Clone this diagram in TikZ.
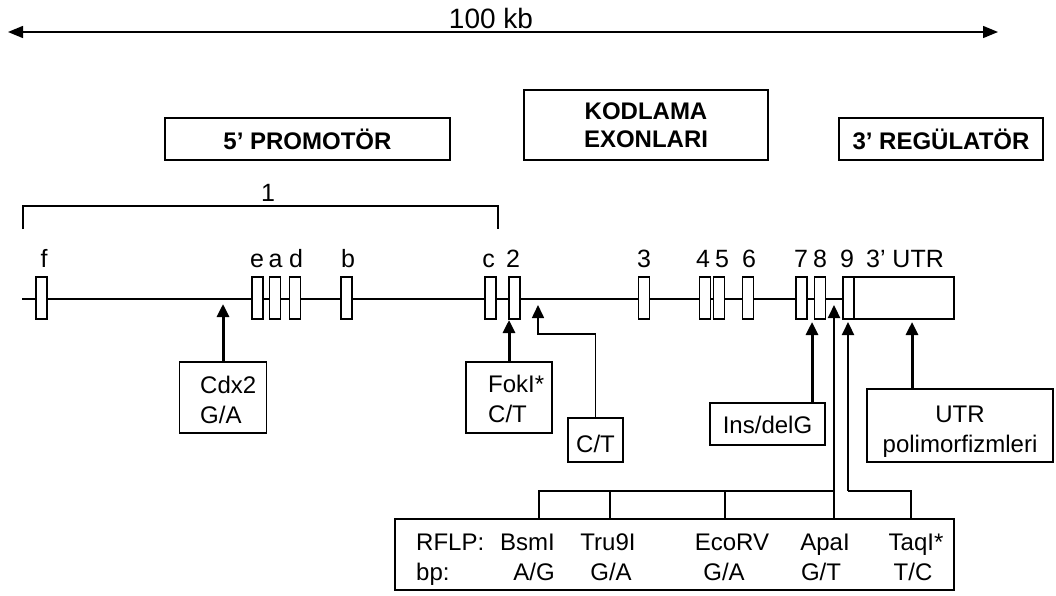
\documentclass[tikz,border=0pt]{standalone}
\usepackage{fontspec}
\setmainfont{Liberation Sans}
\usetikzlibrary{arrows.meta}
\newcommand{\fsbody}{\fontsize{24}{28}\selectfont}
\newcommand{\fslbl}{\fontsize{25}{28}\selectfont}
\newcommand{\fskb}{\fontsize{28}{32}\selectfont}
\newcommand{\fshead}{\fontsize{24}{28}\selectfont\bfseries}
\begin{document}
\begin{tikzpicture}[x=1pt,y=-1pt,
  gl/.style={line width=1.4pt},
  exon/.style={draw, fill=white, line width=1.3pt, minimum width=11pt, minimum height=42pt, inner sep=0pt},
  lbl/.style={anchor=base, font=\fslbl, inner sep=0pt},
  box/.style={draw, line width=1.4pt, inner sep=0pt},
  txt/.style={anchor=base west, font=\fsbody, inner sep=0pt},
  txtc/.style={anchor=base, font=\fsbody, inner sep=0pt},
  txte/.style={anchor=base east, font=\fsbody, inner sep=0pt},
  arr/.style={line width=3pt, -{Triangle[length=13pt,width=12pt]}},
  arrthin/.style={line width=1.6pt, -{Triangle[length=13pt,width=12pt]}},
  mid/.style={line width=2.2pt},
  midarr/.style={line width=2.2pt, -{Triangle[length=13pt,width=12pt]}}]
\useasboundingbox (0,0) rectangle (1056,595);

% 100 kb scale
\coordinate (kbL) at (8,32);
\coordinate (kbR) at (998,32);
\draw[line width=1.4pt, {Triangle[length=15pt,width=12pt]}-{Triangle[length=15pt,width=12pt]}] (kbL) -- (kbR);
\node[anchor=base, font=\fskb, inner sep=0pt] (kb) at (491,28) {100 kb};

% region headings
\node[box, minimum width=285pt, minimum height=42pt, font=\fshead] (prom) at (307.5,139) {5’ PROMOTÖR};
\node[box, minimum width=244pt, minimum height=70pt, font=\fshead, align=center] (kod) at (646,125) {KODLAMA\\EXONLARI};
\node[box, minimum width=204pt, minimum height=42pt, font=\fshead] (reg) at (941,139) {3’ REGÜLATÖR};

% bracket 1
\coordinate (brL) at (23,229);
\coordinate (brR) at (498,229);
\draw[gl] (brL) -- ++(0,-23) -| (brR);
\node[lbl] (one) at (268,201) {1};

% gene line
\coordinate (gstart) at (22,299);
\coordinate (gend) at (843,299);
\draw[gl] (gstart) -- (gend);

% exons
\node[exon] (xf) at (41.5,298) {};
\node[exon] (xe) at (257.5,298) {};
\node[exon] (xa) at (275,298) {};
\node[exon] (xd) at (295,298) {};
\node[exon] (xb) at (346.5,298) {};
\node[exon] (xc) at (490.5,298) {};
\node[exon] (x2) at (514.5,298) {};
\node[exon] (x3) at (644,298) {};
\node[exon] (x4) at (705,298) {};
\node[exon] (x5) at (719,298) {};
\node[exon] (x6) at (748,298) {};
\node[exon] (x7) at (801.5,298) {};
\node[exon] (x8) at (820,298) {};
\node[exon] (x9) at (848.5,298) {};
\node[exon, minimum width=100pt] (xutr) at (904,298) {};

% exon labels
\node[lbl] (lf) at (44,267) {f};
\node[lbl] (le) at (257,267) {e};
\node[lbl] (la) at (275.5,267) {a};
\node[lbl] (ld) at (296,267) {d};
\node[lbl] (lb) at (348,267) {b};
\node[lbl] (lc) at (488.5,267) {c};
\node[lbl] (l2) at (513,267) {2};
\node[lbl] (l3) at (644,267) {3};
\node[lbl] (l4) at (703,267) {4};
\node[lbl] (l5) at (722,267) {5};
\node[lbl] (l6) at (749,267) {6};
\node[lbl] (l7) at (801,267) {7};
\node[lbl] (l8) at (820,267) {8};
\node[lbl] (l9) at (847,267) {9};
\node[lbl] (lutr) at (905,267) {3’ UTR};

% Cdx2
\node[box, minimum width=87pt, minimum height=71pt] (cdx) at (223,397.5) {};
\node[txt] (cdx1) at (200,393) {Cdx2};
\node[txt] (cdx2) at (200,423) {G/A};
\coordinate (cdxtip) at (223,304);
\draw[arr] (cdx.north) -- (cdxtip);

% FokI
\node[box, minimum width=86pt, minimum height=71pt] (fok) at (509,397.5) {};
\node[txt] (fok1) at (488,392) {FokI*};
\node[txt] (fok2) at (488,422) {C/T};
\coordinate (foktip) at (509,320);
\draw[arr] (fok.north) -- (foktip);

% C/T
\node[box, minimum width=55pt, minimum height=44pt] (ct) at (595.5,440) {};
\node[txtc] (ct1) at (595.5,452) {C/T};
\coordinate (ctbend) at (538,334);
\coordinate (cttip) at (538,305);
\draw[arrthin] (ct.north) |- (ctbend) -- (cttip);

% Ins/delG
\node[box, minimum width=115pt, minimum height=42pt] (ins) at (767.5,424) {};
\node[txtc] (ins1) at (767.5,433) {Ins/delG};
\coordinate (instip) at (812,322);
\draw[arr] (ins.north -| instip) -- (instip);

% UTR polymorphisms
\node[box, minimum width=186pt, minimum height=73pt] (utrb) at (960,425.5) {};
\node[txtc] (utr1) at (960,422) {UTR};
\node[txtc] (utr2) at (960,452) {polimorfizmleri};
\coordinate (utrtip) at (912,322);
\draw[arr] (utrb.north -| utrtip) -- (utrtip);

% RFLP box
\node[box, minimum width=559pt, minimum height=71pt] (rflp) at (674.5,554.5) {};
\node[txt] (r1) at (416,550) {RFLP:};
\node[txt] (r2) at (416,580) {bp:};
\node[txte] (bsm1) at (555,550) {BsmI};
\node[txte] (bsm2) at (555,580) {A/G};
\node[txtc] (tru1) at (608,550) {Tru9I};
\node[txtc] (tru2) at (611,580) {G/A};
\node[txtc] (eco1) at (732,550) {EcoRV};
\node[txtc] (eco2) at (724,580) {G/A};
\node[txtc] (apa1) at (825,550) {ApaI};
\node[txtc] (apa2) at (821,580) {G/T};
\node[txtc] (taq1) at (916,550) {TaqI*};
\node[txtc] (taq2) at (913,580) {T/C};

% RFLP tree
\coordinate (tbsm) at (539,491);
\coordinate (ttru) at (610,491);
\coordinate (teco) at (725,491);
\coordinate (apatip) at (834,305);
\coordinate (taqtip) at (848,322);
\coordinate (taqbend) at (848,491);
\coordinate (ttaq) at (911,491);
\draw[gl] (rflp.north -| tbsm) -- (tbsm) -- (tbsm -| apatip);
\draw[gl] (rflp.north -| ttru) -- (ttru);
\draw[gl] (rflp.north -| teco) -- (teco);
\draw[midarr] (rflp.north -| apatip) -- (apatip);
\draw[gl] (rflp.north -| ttaq) -- (ttaq) -- (taqbend);
\draw[midarr] (taqbend) -- (taqtip);
\end{tikzpicture}
\end{document}
